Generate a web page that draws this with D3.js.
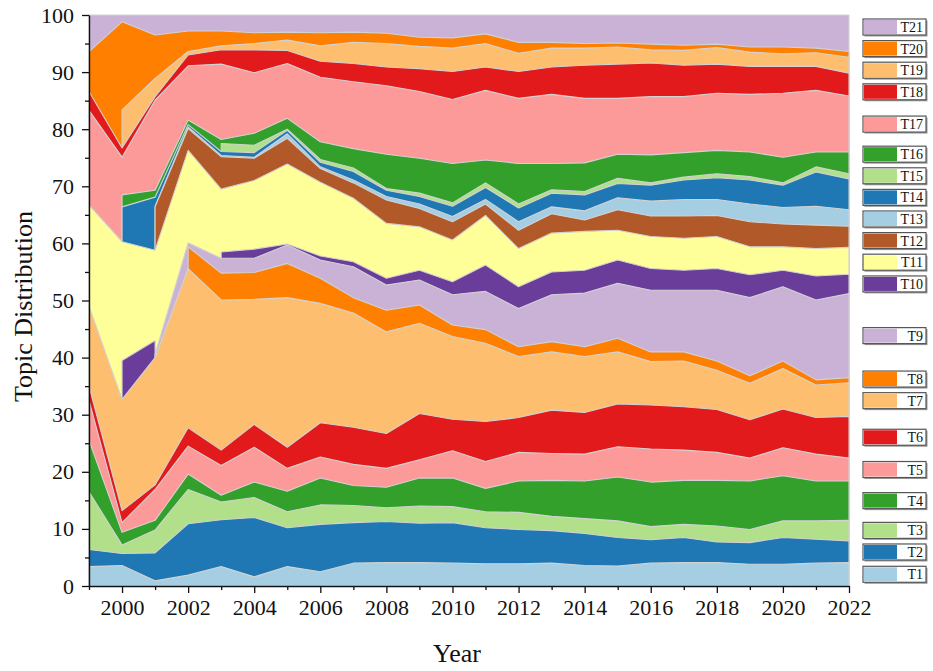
<!DOCTYPE html>
<html><head><meta charset="utf-8">
<script src="https://cdn.jsdelivr.net/npm/d3@7"></script>
<style>
html,body{margin:0;padding:0;background:#fff;}
svg{display:block;font-family:"Liberation Serif","Times New Roman",serif;}
</style>
</head><body>
<svg id="chart" width="933" height="671"></svg>
<script>
// ---------------- data ----------------
const years = [1999,2000,2001,2002,2003,2004,2005,2006,2007,2008,2009,2010,2011,2012,2013,2014,2015,2016,2017,2018,2019,2020,2021,2022];
const topicNames = ["T1","T2","T3","T4","T5","T6","T7","T8","T9","T10","T11","T12","T13","T14","T15","T16","T17","T18","T19","T20","T21"];

const T1  = [3.4,3.6,0.9,1.9,3.4,1.6,3.4,2.5,4.0,4.1,4.1,4.0,3.9,3.9,4.0,3.6,3.5,4.0,4.1,4.1,3.8,3.8,4.0,4.1];
const T2  = [3.0,2.1,4.9,9.0,8.2,10.4,6.8,8.3,7.1,7.2,6.9,7.1,6.3,6.0,5.7,5.6,5.0,4.1,4.4,3.6,3.8,4.7,4.2,3.8];
const T3  = [10.1,1.5,4.0,6.0,3.1,3.5,2.8,3.4,3.0,2.4,3.0,2.8,2.8,3.0,2.5,2.6,2.9,2.3,2.3,2.8,2.3,2.9,3.2,3.6];
const T4  = [9.0,2.2,1.7,2.7,1.2,2.7,3.6,4.7,3.5,3.6,4.9,5.0,4.1,5.5,6.3,6.6,7.7,7.8,7.7,8.0,8.5,7.9,7.0,6.9];
const T5  = [7.0,1.7,5.4,4.9,5.2,6.1,4.0,3.7,3.7,3.3,3.2,4.8,4.7,5.0,4.7,4.7,5.3,5.8,5.3,4.9,4.0,4.9,4.7,4.0];
const T6  = [2.5,2.1,0.8,3.2,2.7,4.0,3.7,6.0,6.5,6.1,8.1,5.5,7.0,6.1,7.6,7.3,7.5,7.7,7.6,7.5,6.7,6.8,6.4,7.3];
const T7  = [14.0,19.5,22.3,27.9,26.3,21.9,26.2,20.9,20.0,17.8,15.8,14.5,13.7,10.7,10.2,9.8,9.1,7.6,8.0,6.9,6.4,7.1,5.7,5.9];
const T8  = [null,null,null,3.8,4.7,4.7,6.0,4.4,2.7,3.8,3.2,2.0,2.4,1.7,1.8,1.7,2.4,1.7,1.6,1.6,1.3,1.3,0.9,0.9];
const T9  = [null,null,0.6,0.7,2.6,2.5,3.2,3.2,5.4,4.4,4.4,5.3,6.7,6.7,8.2,9.4,9.6,10.8,10.8,12.4,13.7,13.0,14.0,14.7];
const T10 = [null,6.8,2.4,null,1.1,1.6,0.2,0.7,0.9,1.2,1.7,2.3,4.6,3.8,4.0,4.0,4.1,3.8,3.5,3.8,4.0,2.9,4.2,3.4];
const T11 = [17.7,20.8,15.8,16.2,11.0,12.0,14.0,12.9,11.1,9.6,7.6,7.3,8.7,6.7,6.8,6.8,5.2,5.6,5.6,5.6,4.9,4.1,4.8,4.7];
const T12 = [null,null,7.6,3.8,5.7,3.9,4.5,2.4,2.7,4.1,3.2,3.2,2.0,3.2,3.4,2.0,3.6,3.6,3.9,3.7,4.4,4.0,4.1,3.7];
const T13 = [null,null,0.1,0.3,0.2,0.2,0.8,0.3,0.5,0.6,0.8,0.9,0.8,1.5,1.2,1.6,2.1,2.6,2.9,2.8,3.1,2.9,3.3,2.9];
const T14 = [null,6.1,1.6,0.4,0.7,0.8,0.6,0.8,1.5,1.1,1.3,1.8,2.1,2.4,2.4,2.8,2.5,2.8,3.4,3.8,4.2,3.9,6.0,5.4];
const T15 = [null,null,null,null,1.4,1.3,0.2,0.5,0.6,0.3,0.6,0.6,0.8,0.7,0.6,0.6,0.9,0.4,0.5,0.7,0.6,0.4,0.9,0.9];
const T16 = [null,2.1,1.2,0.8,0.7,2.1,1.9,3.1,3.4,6.0,6.1,6.9,4.0,7.1,4.6,5.0,4.2,4.9,4.3,4.1,4.3,4.5,2.6,3.8];
const T17 = [16.6,6.6,15.8,9.5,13.2,10.6,9.6,11.3,11.7,12.0,11.7,11.2,12.2,11.4,12.1,11.3,9.8,10.2,9.8,10.0,10.1,11.2,10.8,9.8];
const T18 = [3.3,1.6,0.6,1.9,2.5,4.0,2.3,2.8,3.2,3.3,4.0,4.9,4.1,4.7,4.8,5.8,6.0,5.9,5.5,5.1,4.9,4.7,4.2,4.0];
const T19 = [null,6.7,3.2,0.6,0.7,1.1,1.8,2.7,3.7,4.1,3.9,4.1,4.1,3.2,3.3,3.0,3.0,2.3,2.6,2.9,2.5,2.2,2.4,2.8];
const T20 = [7.0,15.4,7.6,3.6,2.6,1.9,1.4,2.3,1.8,1.8,1.6,1.8,1.7,1.9,1.0,0.8,0.7,1.0,0.9,0.6,0.9,1.2,0.8,1.0];
const T21 = [6.4,1.2,3.5,2.8,2.8,3.1,3.0,3.1,3.0,3.2,3.9,4.0,3.3,4.8,4.8,5.0,4.9,5.1,5.3,5.1,5.6,5.6,5.8,6.4];

const yMajorTicks = [0,10,20,30,40,50,60,70,80,90,100];
const yMinorTicks = [5,15,25,35,45,55,65,75,85,95];
const xMajorTicks = [2000,2002,2004,2006,2008,2010,2012,2014,2016,2018,2020,2022];
const xMinorTicks = [1999,2001,2003,2005,2007,2009,2011,2013,2015,2017,2019,2021];

// ---------------- styling ----------------
const series = [T1,T2,T3,T4,T5,T6,T7,T8,T9,T10,T11,T12,T13,T14,T15,T16,T17,T18,T19,T20,T21];
const colors = ["#a6cee3","#1f78b4","#b2df8a","#33a02c","#fb9a99","#e31a1c","#fdbf6f","#ff7f00","#cab2d6","#6a3d9a","#ffff99",
                "#b15928","#a6cee3","#1f78b4","#b2df8a","#33a02c","#fb9a99","#e31a1c","#fdbf6f","#ff7f00","#cab2d6"];

const svg = d3.select("#chart");
const plot = {left:89, right:849, top:15, bottom:586};
const x = d3.scaleLinear().domain([years[0], years[years.length-1]]).range([plot.left, plot.right]);
const y = d3.scaleLinear().domain([0,100]).range([plot.bottom, plot.top]);

// cumulative stacking (missing values count as 0 for the stack)
const cum = series.map(() => []);
years.forEach((yr, i) => {
  let s = 0;
  series.forEach((ser, k) => { s += (ser[i] == null ? 0 : ser[i]); cum[k][i] = s; });
});

// each layer filled from the baseline up to its cumulative curve, drawn from top layer to bottom layer
const gArea = svg.append("g");
for (let k = series.length - 1; k >= 0; k--) {
  const area = d3.area()
    .defined((d, i) => series[k][i] !== null)
    .x((d, i) => x(years[i]))
    .y0(y(0))
    .y1((d, i) => y(Math.min(100, cum[k][i])));
  gArea.append("path").datum(years)
    .attr("d", area)
    .attr("fill", colors[k])
    .attr("stroke", "#d2d2d2")
    .attr("stroke-width", 1.1)
    .attr("stroke-linejoin", "round");
}

// ---------------- axes ----------------
function styleAxis(g) {
  g.selectAll(".domain").attr("stroke", "#111").attr("stroke-width", 1.4);
  g.selectAll(".tick line").attr("stroke", "#111").attr("stroke-width", 1.3);
  g.selectAll(".tick text").attr("fill", "#111").style("font-size", "22px")
   .style("font-family", '"Liberation Serif","Times New Roman",serif');
}
const gyMinor = svg.append("g").attr("transform", `translate(${plot.left},0)`)
  .call(d3.axisLeft(y).tickValues(yMinorTicks).tickSize(4).tickSizeOuter(0).tickFormat(""));
gyMinor.select(".domain").remove();
styleAxis(gyMinor);
const gy = svg.append("g").attr("transform", `translate(${plot.left},0)`)
  .call(d3.axisLeft(y).tickValues(yMajorTicks).tickSize(7).tickPadding(8).tickSizeOuter(0));
styleAxis(gy);

const gxMinor = svg.append("g").attr("transform", `translate(0,${plot.bottom})`)
  .call(d3.axisBottom(x).tickValues(xMinorTicks).tickSize(4).tickSizeOuter(0).tickFormat(""));
gxMinor.select(".domain").remove();
styleAxis(gxMinor);
const gx = svg.append("g").attr("transform", `translate(0,${plot.bottom})`)
  .call(d3.axisBottom(x).tickValues(xMajorTicks).tickSize(7).tickPadding(6).tickSizeOuter(0).tickFormat(d3.format("d")));
styleAxis(gx);

svg.append("text")
  .attr("transform", `translate(32,${(plot.top + plot.bottom) / 2 + 6}) rotate(-90)`)
  .attr("text-anchor", "middle")
  .style("font-size", "26px").attr("fill", "#111")
  .text("Topic Distribution");

svg.append("text")
  .attr("x", (plot.left + plot.right) / 2 - 12).attr("y", 662)
  .attr("text-anchor", "middle")
  .style("font-size", "26px").attr("fill", "#111")
  .text("Year");

// ---------------- legend (placed at each layer's final-year middle, de-overlapped) ----------------
const last = years.length - 1;
const gap = 21.6;
let items = series.map((s, k) => ({k, d: y(((k ? cum[k-1][last] : 0) + cum[k][last]) / 2)}))
  .sort((a, b) => a.d - b.d);
let clusters = [];
items.forEach(it => {
  clusters.push({items: [it]});
  while (clusters.length > 1) {
    const c = clusters[clusters.length - 1], p = clusters[clusters.length - 2];
    const top = cl => d3.mean(cl.items, d => d.d) - (cl.items.length - 1) * gap / 2;
    const pTop = Math.max(top(p), plot.top + 9);
    const pBottom = pTop + (p.items.length - 1) * gap;
    if (pBottom + gap > top(c)) { p.items = p.items.concat(c.items); clusters.pop(); }
    else break;
  }
});
const legendPos = [];
clusters.forEach(cl => {
  let t = d3.mean(cl.items, d => d.d) - (cl.items.length - 1) * gap / 2;
  t = Math.max(t, plot.top + 9);
  cl.items.forEach((it, j) => legendPos[it.k] = t + j * gap);
});

const gLeg = svg.append("g");
series.forEach((s, k) => {
  const cy = legendPos[k];
  const bx = 863, bw = 63, bh = 16;
  gLeg.append("rect").attr("x", bx + 1.5).attr("y", cy - bh/2 + 1.5).attr("width", bw).attr("height", bh)
    .attr("fill", "#9a9a9a");
  gLeg.append("rect").attr("x", bx).attr("y", cy - bh/2).attr("width", bw).attr("height", bh)
    .attr("fill", "#fff").attr("stroke", "#555").attr("stroke-width", 1.2);
  gLeg.append("rect").attr("x", bx + 1).attr("y", cy - bh/2 + 1).attr("width", 33).attr("height", bh - 2)
    .attr("fill", colors[k]);
  gLeg.append("text").attr("x", bx + bw - 3).attr("y", cy + 5)
    .attr("text-anchor", "end").style("font-size", "14px").attr("fill", "#111")
    .text(topicNames[k]);
});
</script>
</body></html>
